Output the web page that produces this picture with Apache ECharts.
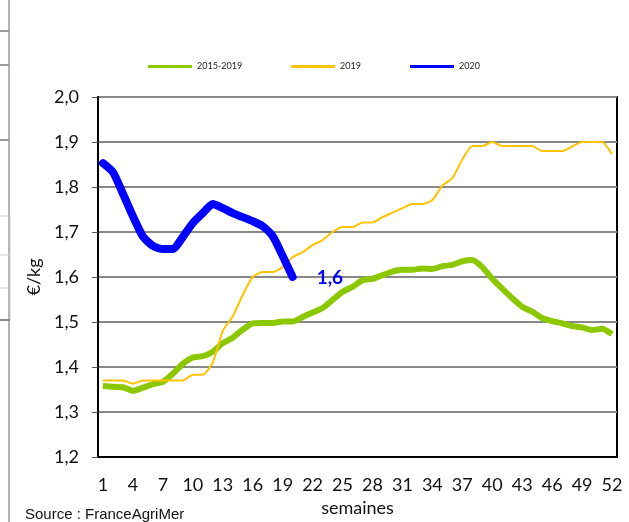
<!DOCTYPE html>
<html>
<head>
<meta charset="utf-8">
<script src="https://cdn.jsdelivr.net/npm/echarts@6/dist/echarts.min.js"></script>
<style>
  html, body { margin: 0; padding: 0; background: #fff; }
  #chart { width: 629px; height: 522px; }
</style>
</head>
<body>
<div id="chart"></div>
<script>
// semaines 1..52
const weeks = [];
for (let i = 1; i <= 52; i++) weeks.push(String(i));

const avg2015_2019 = [
  1.358, 1.356, 1.355, 1.347, 1.354, 1.362, 1.367, 1.385, 1.407, 1.421,
  1.424, 1.434, 1.453, 1.465, 1.483, 1.497, 1.498, 1.498, 1.501, 1.501,
  1.511, 1.521, 1.531, 1.549, 1.567, 1.578, 1.593, 1.596, 1.604, 1.612,
  1.616, 1.616, 1.619, 1.618, 1.624, 1.627, 1.635, 1.638, 1.622, 1.596,
  1.574, 1.553, 1.534, 1.523, 1.509, 1.502, 1.497, 1.491, 1.488, 1.482,
  1.485, 1.473
];

const y2019 = [
  1.37, 1.37, 1.37, 1.363, 1.37, 1.37, 1.37, 1.37, 1.37, 1.383,
  1.383, 1.41, 1.48, 1.513, 1.56, 1.60, 1.611, 1.611, 1.622, 1.644,
  1.655, 1.671, 1.682, 1.70, 1.711, 1.711, 1.721, 1.721, 1.733, 1.743,
  1.753, 1.762, 1.762, 1.771, 1.803, 1.82, 1.861, 1.891, 1.891, 1.90,
  1.891, 1.891, 1.891, 1.891, 1.88, 1.88, 1.88, 1.89, 1.90, 1.90,
  1.90, 1.873
];

const y2020 = [
  1.853, 1.833, 1.785, 1.735, 1.69, 1.669, 1.662, 1.662, 1.689, 1.72,
  1.742, 1.762, 1.753, 1.742, 1.733, 1.724, 1.713, 1.691, 1.647, 1.60
];

const yMin = 1.2, yMax = 2.0, yStep = 0.1;

const chart = echarts.init(document.getElementById('chart'));
const font = 'Lato, "Liberation Sans", sans-serif';

const option = {
  backgroundColor: '#fff',
  animation: false,
  textStyle: { fontFamily: font },
  legend: {
    top: 57,
    left: 143,
    itemWidth: 44,
    itemHeight: 3,
    itemGap: 49,
    icon: 'rect',
    textStyle: { fontSize: 9, color: '#222', fontFamily: font },
    data: ['2015-2019', '2019', '2020']
  },
  grid: {
    left: 98, right: 12, top: 97, bottom: 60,
    show: true, borderColor: '#000', borderWidth: 2
  },
  xAxis: {
    type: 'category',
    data: weeks,
    boundaryGap: true,
    name: 'semaines',
    nameLocation: 'middle',
    nameGap: 42,
    nameTextStyle: { fontSize: 18, color: '#111' },
    axisLine: { lineStyle: { color: '#000', width: 2 } },
    axisTick: { interval: 0, length: 7, lineStyle: { color: '#000' } },
    axisLabel: { interval: 2, fontSize: 18, color: '#111', margin: 19 },
    splitLine: { show: false }
  },
  yAxis: {
    type: 'value',
    min: yMin, max: yMax, interval: yStep,
    name: '€/kg',
    nameLocation: 'middle',
    nameRotate: 90,
    nameGap: 54,
    nameTextStyle: { fontSize: 18, color: '#111' },
    axisLine: { show: true, lineStyle: { color: '#000', width: 2 } },
    axisTick: { show: true, inside: false, length: 6, lineStyle: { color: '#555' } },
    axisLabel: {
      fontSize: 18, color: '#111', margin: 19,
      formatter: v => v.toFixed(1).replace('.', ',')
    },
    splitLine: { lineStyle: { color: '#888', width: 2 } }
  },
  series: [
    {
      name: '2015-2019', type: 'line', data: avg2015_2019,
      showSymbol: false, smooth: 0.2,
      itemStyle: { color: '#8cc800' },
      lineStyle: { color: '#8cc800', width: 6 }
    },
    {
      name: '2019', type: 'line', data: y2019,
      showSymbol: false, smooth: 0.2,
      itemStyle: { color: '#ffc300' },
      lineStyle: { color: '#ffc300', width: 2 }
    },
    {
      name: '2020', type: 'line', data: y2020,
      showSymbol: false, smooth: 0.2,
      itemStyle: { color: '#0000ff' },
      lineStyle: { color: '#0000ff', width: 8, cap: 'round' },
      endLabel: {
        show: true,
        formatter: '1,6',
        distance: 24,
        offset: [0, 1],
        fontSize: 19,
        fontWeight: 'bold',
        color: '#0000ff'
      }
    }
  ],
  graphic: [
    { type: 'line', shape: { x1: 9, y1: 0, x2: 9, y2: 522 }, style: { stroke: '#666', lineWidth: 1 } },
    { type: 'line', shape: { x1: 0, y1: 31, x2: 9, y2: 31 }, style: { stroke: '#999', lineWidth: 2 } },
    { type: 'line', shape: { x1: 0, y1: 65, x2: 9, y2: 65 }, style: { stroke: '#999', lineWidth: 2 } },
    { type: 'line', shape: { x1: 0, y1: 140, x2: 9, y2: 140 }, style: { stroke: '#999', lineWidth: 2 } },
    { type: 'line', shape: { x1: 0, y1: 216, x2: 10, y2: 216 }, style: { stroke: '#ccc', lineWidth: 1 } },
    { type: 'line', shape: { x1: 10, y1: 216, x2: 10, y2: 320 }, style: { stroke: '#ccc', lineWidth: 1 } },
    { type: 'line', shape: { x1: 0, y1: 255, x2: 10, y2: 255 }, style: { stroke: '#ccc', lineWidth: 1 } },
    { type: 'line', shape: { x1: 0, y1: 288, x2: 10, y2: 288 }, style: { stroke: '#ccc', lineWidth: 1 } },
    { type: 'line', shape: { x1: 0, y1: 320, x2: 10, y2: 320 }, style: { stroke: '#888', lineWidth: 2 } },
    {
      type: 'text', left: 25, top: 507,
      style: { text: 'Source : FranceAgriMer', fontSize: 15, fill: '#111', fontFamily: '"Liberation Sans", Arial, sans-serif' }
    }
  ]
};

chart.setOption(option);
</script>
</body>
</html>
